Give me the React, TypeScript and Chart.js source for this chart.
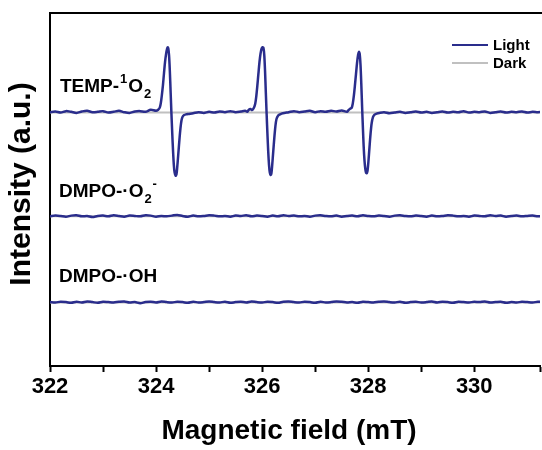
import React, { useEffect, useRef } from 'react';
import { Chart, registerables } from 'chart.js';

Chart.register(...registerables);

const FONT = "'Liberation Sans', Arial, sans-serif";
const BLUE = '#2a2d8c';
const GRAY = '#c0c0c0';

// Field axis (mT)
const xMin = 322;
const xMax = 331.24;

// TEMP-1O2 (Light): field values and intensities
const tempField = [
  322.0, 322.1, 322.2, 322.3, 322.4, 322.5, 322.6, 322.7, 322.8, 322.9,
  323.0, 323.1, 323.2, 323.3, 323.4, 323.5, 323.6, 323.7, 323.8, 323.9,
  324.0, 324.04, 324.07, 324.09, 324.11, 324.13, 324.15, 324.17, 324.19, 324.21,
  324.22, 324.23, 324.245, 324.26, 324.275, 324.29, 324.305, 324.32, 324.335, 324.35,
  324.37, 324.385, 324.4, 324.42, 324.44, 324.46, 324.48, 324.5, 324.53, 324.57,
  324.61, 324.7, 324.8, 324.9, 325.0, 325.1, 325.2, 325.3, 325.4, 325.5,
  325.6, 325.68, 325.72, 325.75, 325.78, 325.81, 325.84, 325.87, 325.89, 325.91,
  325.93, 325.95, 325.97, 325.99, 326.01, 326.025, 326.04, 326.055, 326.07, 326.085,
  326.1, 326.115, 326.13, 326.145, 326.16, 326.175, 326.19, 326.21, 326.23, 326.25,
  326.27, 326.3, 326.34, 326.39, 326.5, 326.6, 326.7, 326.8, 326.9, 327.0,
  327.1, 327.2, 327.3, 327.4, 327.5, 327.6, 327.63, 327.66, 327.69, 327.71,
  327.73, 327.75, 327.77, 327.79, 327.81, 327.825, 327.84, 327.855, 327.87, 327.885,
  327.9, 327.915, 327.93, 327.945, 327.96, 327.975, 327.99, 328.005, 328.025, 328.045,
  328.065, 328.09, 328.12, 328.16, 328.21, 328.3, 328.4, 328.5, 328.6, 328.7,
  328.8, 328.9, 329.0, 329.1, 329.2, 329.3, 329.4, 329.5, 329.6, 329.7,
  329.8, 329.9, 330.0, 330.1, 330.2, 330.3, 330.4, 330.5, 330.6, 330.7,
  330.8, 330.9, 331.0, 331.1, 331.2, 331.3,
];
const tempLight = [
  71.9, 72.1, 71.8, 72.2, 72.0, 71.7, 72.1, 72.3, 71.9, 72.0,
  72.2, 71.8, 72.0, 72.3, 71.9, 71.7, 72.1, 72.2, 72.0, 72.6,
  72.3, 72.6, 73.2, 74.5, 76.8, 79.6, 83.0, 86.2, 88.5, 90.0,
  90.3, 90.0, 88.0, 83.5, 77.5, 71.5, 66.0, 61.0, 57.0, 54.8,
  53.9, 54.3, 56.5, 60.2, 64.0, 67.3, 69.6, 70.6, 71.1, 71.3,
  71.4, 71.6, 71.9, 71.7, 72.0, 71.8, 72.1, 71.9, 72.2, 71.9,
  72.1, 72.3, 72.0, 72.6, 72.8, 72.5, 73.0, 74.3, 76.4, 79.4,
  82.8, 86.1, 88.5, 89.9, 90.3, 90.1, 88.2, 83.6, 77.4, 71.4,
  65.8, 60.8, 57.0, 54.8, 54.1, 54.6, 56.9, 60.8, 64.6, 67.9,
  69.9, 70.9, 71.3, 71.6, 71.9, 72.2, 71.9, 72.1, 72.3, 71.9,
  72.2, 72.0, 72.3, 72.1, 72.4, 72.0, 72.5, 72.9, 73.2, 74.4,
  76.6, 79.5, 82.7, 85.9, 88.2, 89.0, 88.4, 85.4, 80.0, 73.6,
  67.6, 62.2, 58.3, 55.9, 54.7, 54.6, 55.6, 58.0, 62.0, 65.8,
  68.7, 70.5, 71.2, 71.5, 71.7, 71.9, 71.6, 71.8, 72.0, 71.7,
  71.9, 72.1, 71.8, 72.0, 71.7, 71.9, 72.1, 71.8, 72.0, 71.9,
  72.2, 71.8, 72.0, 71.9, 72.1, 71.7, 71.9, 72.1, 71.8, 72.0,
  71.9, 72.1, 71.8, 72.0, 71.9, 72.0,
];
const tempDarkField = [322.0, 331.3];
const tempDark = [71.8, 71.8];

// DMPO traces share one field grid
const flatField = [
  322.0, 322.1, 322.2, 322.3, 322.4, 322.5, 322.6, 322.7, 322.8, 322.9,
  323.0, 323.1, 323.2, 323.3, 323.4, 323.5, 323.6, 323.7, 323.8, 323.9,
  324.0, 324.1, 324.2, 324.3, 324.4, 324.5, 324.6, 324.7, 324.8, 324.9,
  325.0, 325.1, 325.2, 325.3, 325.4, 325.5, 325.6, 325.7, 325.8, 325.9,
  326.0, 326.1, 326.2, 326.3, 326.4, 326.5, 326.6, 326.7, 326.8, 326.9,
  327.0, 327.1, 327.2, 327.3, 327.4, 327.5, 327.6, 327.7, 327.8, 327.9,
  328.0, 328.1, 328.2, 328.3, 328.4, 328.5, 328.6, 328.7, 328.8, 328.9,
  329.0, 329.1, 329.2, 329.3, 329.4, 329.5, 329.6, 329.7, 329.8, 329.9,
  330.0, 330.1, 330.2, 330.3, 330.4, 330.5, 330.6, 330.7, 330.8, 330.9,
  331.0, 331.1, 331.2, 331.3,
];
const o2Light = [
  42.4, 42.6, 42.5, 42.3, 42.6, 42.7, 42.4, 42.5, 42.2, 42.5,
  42.6, 42.4, 42.7, 42.5, 42.3, 42.6, 42.5, 42.4, 42.7, 42.6,
  42.3, 42.5, 42.4, 42.6, 42.8, 42.5, 42.3, 42.6, 42.4, 42.5,
  42.7, 42.6, 42.4, 42.5, 42.3, 42.6, 42.5, 42.7, 42.4, 42.6,
  42.5, 42.3, 42.6, 42.4, 42.7, 42.5, 42.6, 42.4, 42.5, 42.3,
  42.6, 42.7, 42.5, 42.4, 42.6, 42.3, 42.5, 42.6, 42.4, 42.7,
  42.5, 42.4, 42.6, 42.5, 42.3, 42.6, 42.7, 42.5, 42.4, 42.6,
  42.5, 42.3, 42.6, 42.4, 42.5, 42.7, 42.6, 42.4, 42.5, 42.3,
  42.6, 42.5, 42.4, 42.7, 42.5, 42.6, 42.3, 42.5, 42.6, 42.4,
  42.5, 42.6, 42.4, 42.5,
];
const o2DarkField = [322.0, 331.3];
const o2Dark = [42.4, 42.4];

const ohLight = [
  18.1, 18.0, 18.2, 18.1, 17.9, 18.2, 18.0, 18.3, 18.1, 17.9,
  18.2, 18.1, 18.0, 18.2, 18.3, 18.0, 18.1, 17.8, 18.1, 18.2,
  18.0, 18.3, 18.1, 18.0, 18.2, 18.1, 17.9, 18.2, 18.0, 18.1,
  18.3, 18.1, 18.0, 18.2, 17.9, 18.1, 18.2, 18.0, 18.3, 18.1,
  18.0, 18.2, 18.1, 17.9, 18.2, 18.3, 18.1, 18.0, 18.2, 18.1,
  17.9, 18.2, 18.0, 18.1, 18.3, 18.2, 18.0, 18.1, 17.9, 18.2,
  18.1, 18.0, 18.2, 18.3, 18.1, 18.0, 18.2, 17.9, 18.1, 18.2,
  18.0, 18.1, 18.3, 18.0, 18.2, 18.1, 17.9, 18.2, 18.1, 18.0,
  18.2, 18.1, 18.3, 18.0, 18.1, 18.2, 17.9, 18.1, 18.0, 18.2,
  18.1, 18.0, 18.2, 18.1,
];
const ohDarkField = [322.0, 331.3];
const ohDark = [18.0, 18.0];

const xTickLabels = [322, 324, 326, 328, 330];
const legendLabels = ['Light', 'Dark'];

const zip = (xs: number[], ys: number[]) => xs.map((x, i) => ({ x, y: ys[i] }));

const annotatePlugin = {
  id: 'annotate',
  afterDraw(chart: any) {
    const ctx = chart.ctx as CanvasRenderingContext2D;
    const { left, top } = chart.chartArea;
    ctx.save();
    // top frame line
    ctx.strokeStyle = '#000';
    ctx.lineWidth = 2;
    ctx.beginPath();
    ctx.moveTo(left - 1, top);
    ctx.lineTo(chart.width, top);
    ctx.stroke();

    // axis titles
    ctx.fillStyle = '#000';
    ctx.textAlign = 'center';
    ctx.textBaseline = 'middle';
    ctx.font = `bold 28px ${FONT}`;
    ctx.fillText('Magnetic field (mT)', 289, 431);
    ctx.save();
    ctx.translate(22, 184);
    ctx.rotate(-Math.PI / 2);
    ctx.font = `bold 30px ${FONT}`;
    ctx.fillText('Intensity (a.u.)', 0, 0);
    ctx.restore();

    // legend
    ctx.textAlign = 'left';
    ctx.textBaseline = 'alphabetic';
    ctx.font = `bold 15px ${FONT}`;
    const legendColors = [BLUE, GRAY];
    const legendY = [45, 63];
    legendLabels.forEach((lab, i) => {
      ctx.strokeStyle = legendColors[i];
      ctx.lineWidth = 2;
      ctx.beginPath();
      ctx.moveTo(452, legendY[i]);
      ctx.lineTo(488, legendY[i]);
      ctx.stroke();
      ctx.fillStyle = '#000';
      ctx.fillText(lab, 493, legendY[i] + 5);
    });

    // trace labels with super/subscripts
    const big = `bold 19px ${FONT}`;
    const small = `bold 13px ${FONT}`;
    ctx.fillStyle = '#000';
    const put = (t: string, x: number, y: number, f: string) => {
      ctx.font = f;
      ctx.fillText(t, x, y);
      return x + ctx.measureText(t).width;
    };
    // TEMP-1O2
    let x = put('TEMP-', 60, 92, big);
    x = put('1', x + 1, 83, small);
    x = put('O', x + 1, 92, big);
    put('2', x + 1, 98, small);
    // DMPO-.O2-
    x = put('DMPO-\u00b7O', 59, 197, big);
    const xs = x + 1;
    put('2', xs, 203, small);
    put('-', xs + 8, 188, small);
    // DMPO-.OH
    put('DMPO-\u00b7OH', 59, 282, big);
    ctx.restore();
  },
};

export default function App() {
  const ref = useRef<HTMLCanvasElement | null>(null);
  useEffect(() => {
    if (!ref.current) return;
    const lineOpts = { borderColor: BLUE, borderWidth: 2.5, pointRadius: 0, tension: 0.3, order: 0 };
    const darkOpts = { borderColor: GRAY, borderWidth: 2, pointRadius: 0, order: 1 };
    const chart = new Chart(ref.current, {
      type: 'line',
      data: {
        datasets: [
          { label: 'TEMP Light', data: zip(tempField, tempLight), ...lineOpts },
          { label: 'DMPO-O2 Light', data: zip(flatField, o2Light), ...lineOpts },
          { label: 'DMPO-OH Light', data: zip(flatField, ohLight), ...lineOpts },
          { label: 'TEMP Dark', data: zip(tempDarkField, tempDark), ...darkOpts },
          { label: 'DMPO-O2 Dark', data: zip(o2DarkField, o2Dark), ...darkOpts },
          { label: 'DMPO-OH Dark', data: zip(ohDarkField, ohDark), ...darkOpts },
        ],
      },
      options: {
        animation: false,
        responsive: false,
        layout: { padding: { top: 13, right: 0, bottom: 0, left: 0 } },
        plugins: { legend: { display: false }, tooltip: { enabled: false } },
        scales: {
          x: {
            type: 'linear',
            min: xMin,
            max: xMax,
            afterFit: (s: any) => { s.height = 84; },
            border: { display: true, color: '#000', width: 2 },
            grid: { drawOnChartArea: false, drawTicks: true, tickLength: 6, tickWidth: 2, tickColor: '#000' },
            ticks: {
              stepSize: 1,
              autoSkip: false,
              maxRotation: 0,
              padding: 2,
              color: '#000',
              font: { family: FONT, size: 22, weight: 'bold' },
              callback: (v: any) => (xTickLabels.includes(Number(v)) ? String(v) : ''),
            },
          },
          y: {
            type: 'linear',
            min: 0,
            max: 100,
            afterFit: (s: any) => { s.width = 50; },
            border: { display: true, color: '#000', width: 2 },
            grid: { display: false },
            ticks: { display: false },
          },
        },
      },
      plugins: [annotatePlugin],
    });
    return () => chart.destroy();
  }, []);
  return (
    <div style={{ position: 'fixed', left: 0, top: 0, width: 542, height: 450, background: '#fff' }}>
      <canvas ref={ref} width={542} height={450} style={{ width: 542, height: 450 }} />
    </div>
  );
}
